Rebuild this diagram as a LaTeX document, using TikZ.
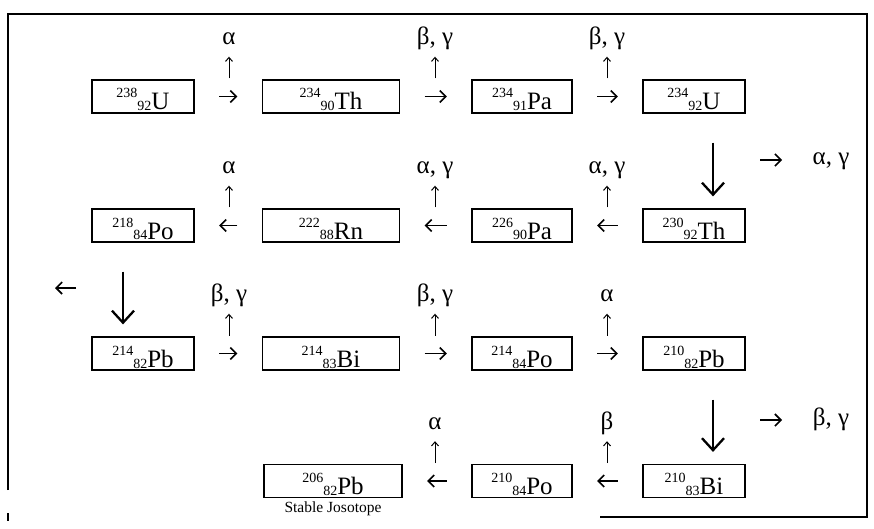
\documentclass[tikz,border=0pt]{standalone}
\usepackage{fontspec}
\setmainfont{Liberation Serif}
\usepackage{tikz}
\usetikzlibrary{arrows.meta}

% mass number up, atomic number down, then the element
\newcommand{\iso}[3]{\raisebox{12pt}{\fontsize{14}{14}\selectfont #1}\raisebox{-1pt}{\fontsize{14}{14}\selectfont #2}#3}

\begin{document}
\begin{tikzpicture}[x=1pt, y=-1pt,
    nuc/.style={draw, line width=1.2pt, inner xsep=0pt, inner ysep=3pt, text height=27pt, text depth=0pt, font=\fontsize{25}{25}\selectfont},
    emit/.style={inner sep=0pt, text height=17pt, text depth=6pt, anchor=base, font=\fontsize{25}{25}\selectfont},
    tip/.style={-{Straight Barb[length=6pt,width=12pt]}, line width=1.6pt},
    hop/.style={tip, shorten <=24.5pt, shorten >=24.5pt},
    up/.style={-{Straight Barb[length=4pt,width=7pt]}, line width=1pt, shorten >=6pt},
    drop/.style={-{Straight Barb[length=12pt,width=22pt]}, line width=2.3pt, shorten <=29pt, shorten >=12pt}]
    \useasboundingbox (0,0) rectangle (874,529);

    % Frame
    \draw[line width=1.4pt] (8,490) -- (8,14) -- (867,14) -- (867,517) -- (600,517);
    \draw[line width=1.4pt] (8,513) -- (8,521);

    % Nuclides
    \foreach \nm/\x/\y/\w/\a/\z/\el in {
        u238/143/96.5/102/238/92/U, th234/331/96.5/137/234/90/Th,
        pa234/522/96.5/100/234/91/Pa, u234/694/96.5/102/234/92/U,
        po218/143/225.5/102/218/84/Po, rn222/331/225.5/137/222/88/Rn,
        pa226/522/225.5/100/226/90/Pa, th230/694/225.5/102/230/92/Th,
        pb214/143/353.5/102/214/82/Pb, bi214/331/353.5/137/214/83/Bi,
        po214/522/353.5/100/214/84/Po, pb210/694/353.5/102/210/82/Pb,
        pb206/333/481/138/206/82/Pb, po210/522/481/100/210/84/Po,
        bi210/694/481/102/210/83/Bi} {
        \node[nuc, minimum width=\w pt] (\nm) at (\x,\y) {\iso{\a}{\z}{\el}};
    }
    \node[anchor=base, font=\fontsize{15.5}{15.5}\selectfont] (stable) at (333,512) {Stable Josotope};

    % Decay steps
    \foreach \a/\b in {u238/th234, th234/pa234, pa234/u234,
        th230/pa226, pa226/rn222, rn222/po218,
        pb214/bi214, bi214/po214, po214/pb210,
        bi210/po210, po210/pb206} {
        \draw[hop] (\a) -- (\b);
    }
    \draw[drop] ([xshift=19pt]u234.south) -- ([xshift=19pt]th230.north);
    \draw[drop] ([xshift=-20pt]po218.south) -- ([xshift=-20pt]pb214.north);
    \draw[drop] ([xshift=19pt]pb210.south) -- ([xshift=19pt]bi210.north);

    % Emitted radiation
    \foreach \n/\x/\c/\t in {
        1/229/96.5/α, 2/435/96.5/{β, γ}, 3/607/96.5/{β, γ},
        4/229/225.5/α, 5/435/225.5/{α, γ}, 6/607/225.5/{α, γ},
        7/229/353.5/{β, γ}, 8/435/353.5/{β, γ}, 9/607/353.5/α,
        10/435/481/α, 11/607/481/β} {
        \coordinate (p\n) at (\x,\c-18);
        \node[emit] (l\n) at (\x,\c-52) {\t};
        \draw[up] (p\n) -- (l\n);
    }

    % Side arrows
    \coordinate (sa1) at (760,160);
    \coordinate (sb1) at (782,160);
    \draw[tip] (sa1) -- (sb1);
    \node[emit] (s1) at (831,165) {α, γ};
    \coordinate (sa2) at (760,420);
    \coordinate (sb2) at (782,420);
    \draw[tip] (sa2) -- (sb2);
    \node[emit] (s2) at (831,425) {β, γ};
    \coordinate (sa3) at (76,288);
    \coordinate (sb3) at (55,288);
    \draw[tip] (sa3) -- (sb3);
\end{tikzpicture}
\end{document}
